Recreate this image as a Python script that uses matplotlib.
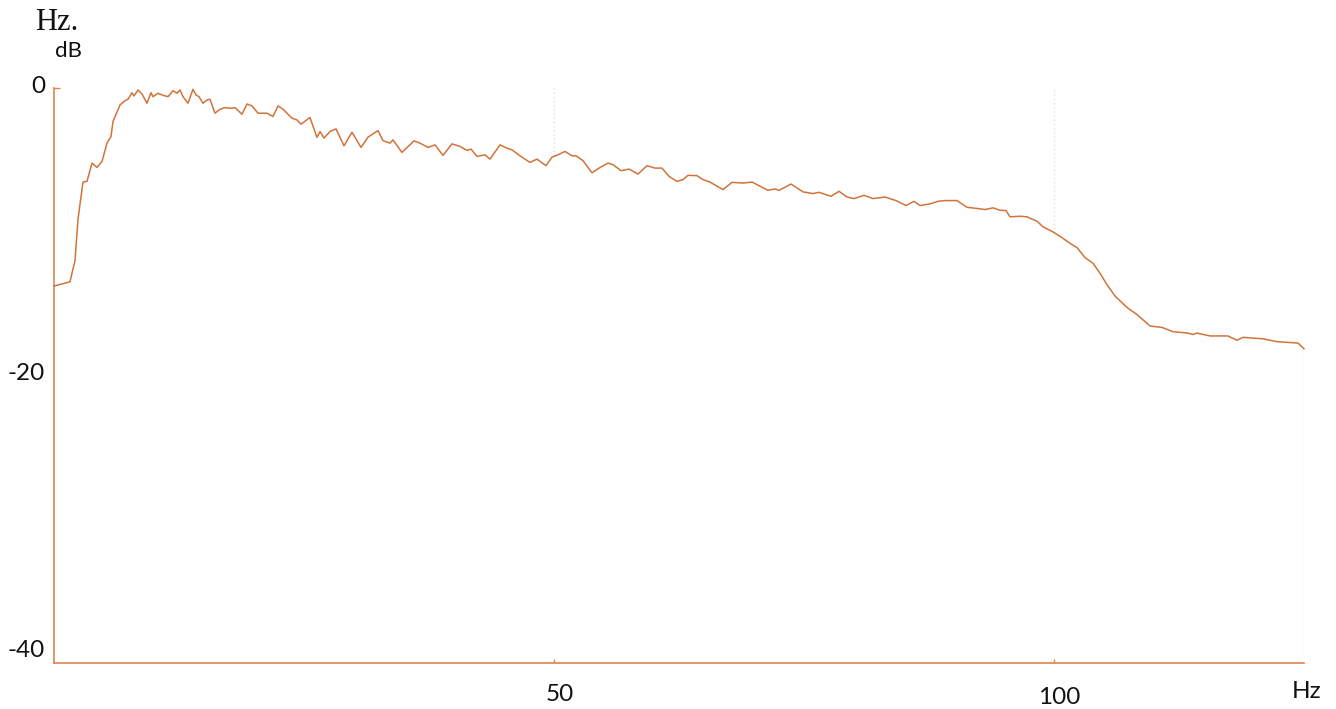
import numpy as np
import matplotlib
matplotlib.use("Agg")
import matplotlib.pyplot as plt
import matplotlib.transforms as mtransforms

# Spectrum (Hz, dB)
freq_hz = [
    0, 1.6, 2.1, 2.4, 2.9, 3.3, 3.8, 4.3, 4.8, 5.3, 5.7, 5.9, 6.6, 7.1, 7.4,
    7.8, 8.0, 8.4, 8.8, 9.3, 9.7, 9.9, 10.4, 10.9, 11.4, 11.9, 12.3, 12.6,
    12.9, 13.4, 13.9, 14.2, 14.5, 14.9, 15.3, 15.6, 16.1, 16.6, 17.1, 17.6,
    18.1, 18.8, 19.3, 19.8, 20.4, 21.3, 21.9, 22.4, 22.9, 23.8, 24.3, 24.7,
    25.6, 26.3, 26.6, 27.0, 27.6, 28.2, 29.0, 29.8, 30.7, 31.4, 32.4, 32.9,
    33.6, 33.9, 34.8, 36.0, 36.6, 37.4, 38.1, 38.9, 39.8, 40.6, 41.3, 41.7,
    42.3, 43.1, 43.6, 44.6, 45.3, 45.8, 46.6, 47.6, 48.3, 49.2, 49.8, 50.4,
    51.1, 51.8, 52.2, 52.9, 53.8, 54.6, 55.4, 55.9, 56.7, 57.5, 58.4, 59.3,
    60.1, 60.8, 61.5, 62.3, 62.9, 63.4, 64.3, 64.9, 65.6, 66.9, 67.8, 68.9,
    69.8, 71.4, 72.1, 72.5, 73.7, 74.9, 75.9, 76.5, 77.7, 78.5, 79.3, 80.0,
    81.0, 81.9, 83.1, 84.2, 85.2, 86.0, 86.6, 87.6, 88.4, 89.1, 90.3, 91.3,
    92.4, 93.1, 93.9, 94.6, 95.2, 95.6, 96.6, 97.3, 98.3, 98.9, 99.9, 100.8,
    101.6, 102.3, 103.1, 103.9, 104.6, 105.3, 106.1, 107.3, 108.3, 109.6,
    110.8, 111.9, 113.4, 113.9, 114.3, 115.6, 117.4, 118.3, 118.9, 120.9,
    122.3, 124.4, 125.0,
]
level_db = [
    -13.9, -13.6, -12.1, -9.2, -6.6, -6.55, -5.27, -5.57, -5.15, -3.87, -3.4,
    -2.35, -1.19, -0.89, -0.79, -0.33, -0.56, -0.14, -0.42, -1.07, -0.33,
    -0.61, -0.37, -0.51, -0.61, -0.19, -0.37, -0.14, -0.61, -1.07, -0.09,
    -0.49, -0.61, -1.07, -0.84, -0.79, -1.77, -1.49, -1.38, -1.42, -1.38,
    -1.84, -1.12, -1.26, -1.77, -1.77, -2.0, -1.26, -1.49, -2.12, -2.24,
    -2.54, -2.07, -3.47, -3.05, -3.52, -3.05, -2.87, -4.06, -3.1, -4.17,
    -3.45, -2.99, -3.69, -3.87, -3.64, -4.52, -3.71, -3.87, -4.17, -3.99,
    -4.73, -3.92, -4.1, -4.38, -4.29, -4.8, -4.69, -4.99, -3.99, -4.22,
    -4.34, -4.76, -5.22, -4.99, -5.45, -4.85, -4.69, -4.45, -4.76, -4.76,
    -5.1, -5.95, -5.58, -5.27, -5.38, -5.8, -5.69, -6.04, -5.45, -5.62,
    -5.62, -6.2, -6.55, -6.43, -6.13, -6.15, -6.43, -6.6, -7.13, -6.62,
    -6.67, -6.6, -7.18, -7.08, -7.18, -6.74, -7.29, -7.41, -7.32, -7.6,
    -7.25, -7.65, -7.76, -7.53, -7.76, -7.65, -7.9, -8.25, -7.95, -8.25,
    -8.13, -7.95, -7.9, -7.9, -8.37, -8.46, -8.53, -8.41, -8.58, -8.6,
    -9.04, -9.0, -9.04, -9.35, -9.74, -10.1, -10.5, -10.9, -11.2, -11.9,
    -12.3, -13.0, -13.8, -14.6, -15.4, -15.9, -16.7, -16.8, -17.1, -17.2,
    -17.3, -17.2, -17.4, -17.4, -17.7, -17.5, -17.6, -17.8, -17.9, -18.3,
]

x_ticks = [50, 100]
y_ticks = [0, -20, -40]
marker_freqs = [50, 100]

LINE = "#d2733a"
AXIS = "#dd8650"
FAINT = "#f4d9c6"

plt.rcParams["font.family"] = ["Lato", "DejaVu Sans"]

fig = plt.figure(figsize=(13.36, 7.09), dpi=100)
W, H = 1336, 709
ax = fig.add_axes([54 / W, (H - 663) / H, (1304 - 54) / W, (663 - 88) / H])

ax.plot(freq_hz, level_db, color=LINE, lw=1.1, clip_on=False, zorder=3)

# faint drop lines from the top to the curve
for f in marker_freqs:
    yv = np.interp(f, freq_hz, level_db)
    ax.vlines(f, yv, 0.2, colors=FAINT, lw=1.0, linestyles=(0, (1, 2)), zorder=2)
ax.vlines(freq_hz[-1], -40.35, level_db[-1], colors="#fbeee4", lw=1.0, zorder=1)

ax.set_xlim(0, 125)
ax.set_ylim(-40.35, 0)

for side in ["top", "right"]:
    ax.spines[side].set_visible(False)
for side in ["left", "bottom"]:
    ax.spines[side].set_color(AXIS)
    ax.spines[side].set_linewidth(1.2)

ax.set_xticks(x_ticks)
ax.set_xticklabels([])
ax.tick_params(axis="x", direction="in", length=3, color=AXIS, width=1)
ax.set_yticks([0])
ax.set_yticklabels([])
ax.tick_params(axis="y", direction="in", length=4, color=AXIS, width=1)

# tick labels placed like the reference
tx = mtransforms.blended_transform_factory(ax.transData, fig.transFigure)
x_label_y = {50: 694.5, 100: 698}
for t in x_ticks:
    ax.text(t + 0.55, 1 - x_label_y[t] / H, str(t), transform=tx,
            ha="center", va="center", fontsize=17.5, color="#111111")
ax.text(125.3, 1 - 691 / H, "Hz", transform=tx, ha="center", va="center",
        fontsize=17.5, color="#111111")

ty = mtransforms.blended_transform_factory(fig.transFigure, ax.transData)
y_label_off = {0: 0.1, -20: 0.0, -40: 0.5}
for t in y_ticks:
    ax.text(45 / W, t + y_label_off[t], str(t), transform=ty, ha="right",
            va="center", fontsize=17.5, color="#111111")

fig.text(35 / W, 1 - 23 / H, "Hz.", fontsize=22, family="Liberation Serif",
         ha="left", va="center", color="#111111")
fig.text(55 / W, 1 - 51 / H, "dB", fontsize=16, ha="left", va="center",
         color="#111111")

fig.savefig("out.png", dpi=100)
